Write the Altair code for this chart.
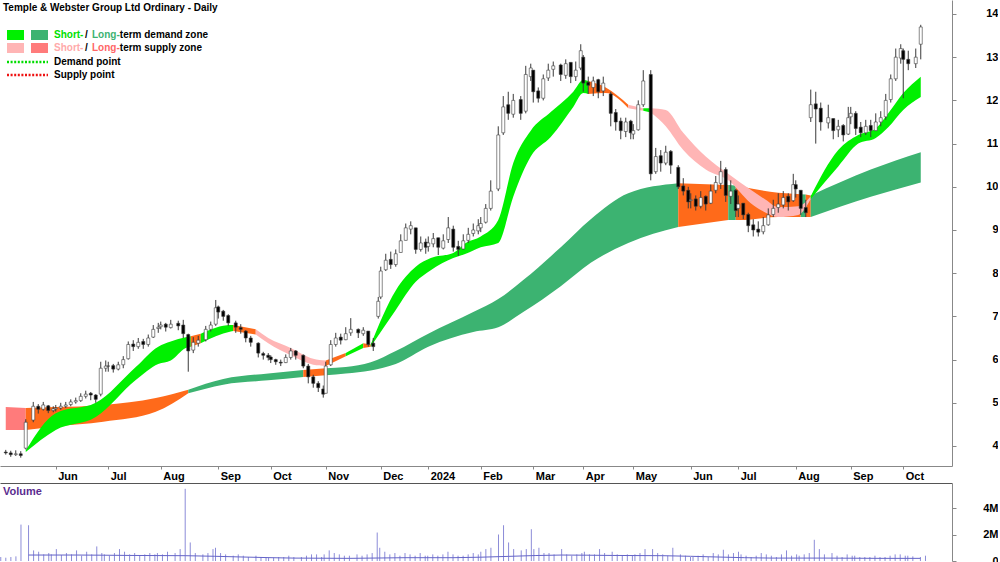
import altair as alt
import numpy as np
import pandas as pd

FONT = "Liberation Sans"

# ---------------- price data (one inner list per month) ----------------
months = ["2023-05", "2023-06", "2023-07", "2023-08", "2023-09", "2023-10",
          "2023-11", "2023-12", "2024-01", "2024-02", "2024-03", "2024-04",
          "2024-05", "2024-06", "2024-07", "2024-08", "2024-09", "2024-10"]

open_ = [
    [3.86, 3.84, 3.80, 3.82, 3.95, 4.60, 4.92, 4.85, 4.93, 4.82],
    [4.86, 4.88, 4.92, 4.96, 5.02, 5.05, 5.15, 5.22, 5.18, 5.20, 5.80],
    [5.85, 5.86, 5.78, 5.88, 6.02, 6.36, 6.30, 6.42, 6.35, 6.52, 6.72],
    [6.76, 6.82, 6.74, 6.84, 6.80, 6.58, 6.22, 6.38, 6.46, 6.70, 6.82],
    [7.22, 7.12, 7.02, 6.85, 6.74, 6.66, 6.50, 6.38, 6.14, 6.10],
    [6.06, 6.00, 5.94, 5.93, 6.05, 6.20, 6.10, 5.85, 5.60, 5.45, 5.32],
    [5.22, 5.88, 6.35, 6.52, 6.46, 6.62, 6.70, 6.60, 6.66, 6.38, 7.00],
    [7.45, 8.08, 8.32, 8.20, 8.48, 8.76, 9.02, 9.05, 8.55, 8.72],
    [8.62, 8.68, 8.82, 8.58, 8.78, 9.02, 8.62, 8.56, 8.76, 8.92, 8.98],
    [9.05, 9.18, 9.50, 9.95, 11.25, 11.90, 11.68, 12.02, 11.75, 12.55],
    [12.70, 12.22, 12.05, 12.52, 12.72, 12.82, 12.58, 12.88, 12.55, 12.75],
    [13.00, 12.42, 12.30, 12.48, 12.22, 12.15, 11.72, 11.52, 11.28, 11.52],
    [11.22, 11.32, 11.90, 12.60, 10.35, 10.72, 10.55, 10.82, 10.45, 10.02, 9.92],
    [9.68, 9.72, 9.55, 9.78, 9.62, 9.92, 10.08, 10.40, 9.78, 9.92],
    [9.50, 9.62, 9.36, 9.12, 9.02, 8.96, 9.12, 9.36, 9.52, 9.58, 9.78, 9.68],
    [10.05, 9.92, 9.52, 11.60, 11.92, 11.82, 11.48, 11.58, 11.32, 11.42, 11.22],
    [11.62, 11.70, 11.38, 11.25, 11.42, 11.30, 11.50, 11.62, 12.02, 12.50, 12.98],
    [13.15, 12.95, 12.85, 13.30],
]
close = [
    [3.84, 3.80, 3.82, 3.78, 4.55, 4.92, 4.85, 4.95, 4.82, 4.86],
    [4.88, 4.92, 4.95, 5.02, 5.05, 5.15, 5.20, 5.18, 5.08, 5.80, 5.85],
    [5.85, 5.78, 5.88, 6.00, 6.35, 6.30, 6.40, 6.35, 6.50, 6.70, 6.75],
    [6.80, 6.75, 6.82, 6.78, 6.60, 6.20, 6.40, 6.45, 6.70, 6.80, 7.20],
    [7.10, 7.00, 6.85, 6.75, 6.70, 6.50, 6.40, 6.15, 6.10, 6.05],
    [6.00, 5.95, 5.92, 6.05, 6.20, 6.10, 5.85, 5.60, 5.45, 5.35, 5.20],
    [5.85, 6.35, 6.50, 6.45, 6.60, 6.70, 6.62, 6.68, 6.35, 6.30, 7.35],
    [8.05, 8.30, 8.20, 8.45, 8.75, 9.05, 9.10, 8.55, 8.70, 8.60],
    [8.70, 8.80, 8.60, 8.75, 9.05, 8.60, 8.55, 8.75, 8.90, 9.00, 9.10],
    [9.15, 9.50, 9.90, 11.20, 11.85, 11.70, 12.00, 11.70, 12.60, 12.75],
    [12.20, 12.05, 12.50, 12.70, 12.80, 12.60, 12.85, 12.55, 12.70, 13.15],
    [12.40, 12.35, 12.45, 12.20, 12.40, 11.70, 11.50, 11.30, 11.50, 11.25],
    [11.30, 11.90, 12.45, 10.30, 10.70, 10.55, 10.80, 10.50, 10.00, 9.90, 9.65],
    [9.70, 9.55, 9.75, 9.60, 9.90, 10.10, 10.35, 9.80, 9.90, 9.45],
    [9.60, 9.35, 9.10, 9.00, 8.95, 9.10, 9.35, 9.50, 9.60, 9.75, 9.65, 10.05],
    [9.95, 9.50, 9.40, 11.90, 11.80, 11.50, 11.60, 11.30, 11.40, 11.20, 11.60],
    [11.70, 11.35, 11.25, 11.40, 11.30, 11.50, 11.60, 12.00, 12.50, 13.00, 13.20],
    [12.95, 12.85, 13.00, 13.70],
]
high = [
    [3.91, 3.89, 3.90, 3.88, 4.62, 5.02, 4.97, 5.02, 4.95, 4.92],
    [4.95, 5.00, 5.02, 5.08, 5.12, 5.22, 5.28, 5.25, 5.20, 5.95, 5.98],
    [5.95, 5.90, 5.95, 6.08, 6.42, 6.45, 6.50, 6.48, 6.58, 6.80, 6.85],
    [6.88, 6.85, 6.92, 6.90, 6.92, 6.60, 6.52, 6.55, 6.78, 6.88, 7.38],
    [7.25, 7.15, 7.05, 6.90, 6.82, 6.68, 6.55, 6.40, 6.18, 6.15],
    [6.10, 6.02, 6.00, 6.12, 6.27, 6.22, 6.12, 5.90, 5.65, 5.50, 5.40],
    [5.95, 6.45, 6.62, 6.60, 6.75, 6.96, 6.72, 6.75, 6.65, 6.50, 7.45],
    [8.15, 8.45, 8.50, 8.55, 8.90, 9.15, 9.20, 9.05, 8.85, 8.80],
    [8.85, 8.93, 8.80, 8.90, 9.30, 9.10, 8.75, 8.90, 9.05, 9.15, 9.25],
    [9.30, 9.60, 10.15, 11.40, 12.10, 12.20, 12.15, 12.10, 12.80, 12.85],
    [12.70, 12.30, 12.60, 12.85, 12.90, 12.85, 12.95, 12.80, 12.90, 13.30],
    [13.05, 12.55, 12.55, 12.50, 12.55, 12.20, 11.80, 11.60, 11.60, 11.55],
    [11.45, 12.00, 12.70, 12.70, 10.90, 10.85, 10.95, 10.85, 10.50, 10.20, 10.00],
    [9.85, 9.80, 9.90, 9.80, 10.05, 10.25, 10.60, 10.45, 10.15, 9.95],
    [9.80, 9.60, 9.40, 9.25, 9.20, 9.30, 9.50, 9.70, 9.85, 9.90, 9.85, 10.30],
    [10.15, 9.85, 9.70, 12.25, 12.20, 11.95, 11.90, 11.55, 11.55, 11.45, 11.85],
    [11.85, 11.75, 11.50, 11.55, 11.55, 11.70, 11.75, 12.15, 12.60, 13.20, 13.30],
    [13.20, 13.15, 13.20, 13.75],
]
low = [
    [3.80, 3.75, 3.77, 3.73, 3.92, 4.55, 4.75, 4.82, 4.76, 4.78],
    [4.80, 4.84, 4.88, 4.92, 4.98, 5.02, 5.10, 5.06, 5.00, 5.15, 5.72],
    [5.72, 5.70, 5.75, 5.80, 6.00, 6.20, 6.25, 6.25, 6.30, 6.50, 6.62],
    [6.70, 6.65, 6.72, 6.68, 6.50, 5.72, 6.15, 6.30, 6.42, 6.65, 6.78],
    [6.95, 6.90, 6.78, 6.62, 6.60, 6.40, 6.30, 6.05, 6.00, 5.98],
    [5.92, 5.88, 5.85, 5.92, 6.00, 6.00, 5.80, 5.45, 5.35, 5.25, 5.12],
    [5.55, 5.85, 6.30, 6.35, 6.45, 6.55, 6.50, 6.55, 6.30, 6.20, 6.95],
    [7.40, 8.05, 8.10, 8.15, 8.50, 8.85, 8.90, 8.45, 8.50, 8.45],
    [8.50, 8.60, 8.42, 8.55, 8.70, 8.50, 8.40, 8.55, 8.70, 8.85, 8.90],
    [8.95, 9.15, 9.45, 9.90, 11.20, 11.55, 11.60, 11.55, 11.70, 12.45],
    [11.95, 11.95, 12.00, 12.45, 12.55, 12.45, 12.50, 12.40, 12.45, 12.70],
    [12.20, 12.15, 12.10, 12.05, 12.10, 11.40, 11.30, 11.10, 11.15, 11.10],
    [11.10, 11.30, 11.85, 10.15, 10.30, 10.35, 10.50, 10.30, 9.95, 9.80, 9.50],
    [9.50, 9.45, 9.50, 9.45, 9.60, 9.85, 9.95, 9.65, 9.60, 9.30],
    [9.30, 9.25, 8.95, 8.85, 8.85, 8.90, 9.10, 9.30, 9.40, 9.50, 9.45, 9.65],
    [9.75, 9.35, 9.30, 11.50, 11.00, 11.30, 11.35, 11.10, 11.15, 11.05, 11.20],
    [11.45, 11.20, 11.15, 11.20, 11.15, 11.30, 11.40, 11.55, 11.95, 12.45, 12.85],
    [12.05, 12.70, 12.75, 12.95],
]
volume_m = [
    [0.30, 0.25, 0.30, 0.35, 2.75, 2.70, 0.80, 0.70, 0.50, 0.60],
    [0.50, 0.90, 0.45, 0.60, 0.50, 0.80, 0.40, 0.70, 0.50, 1.10, 0.60],
    [0.50, 0.40, 0.60, 0.90, 0.70, 0.50, 0.60, 0.40, 0.50, 0.60, 0.50],
    [0.60, 0.50, 0.70, 0.60, 0.90, 5.45, 1.40, 0.60, 0.50, 0.60, 0.90],
    [1.00, 0.60, 0.50, 0.40, 0.50, 0.40, 0.30, 0.40, 0.30, 0.30],
    [0.30, 0.25, 0.30, 0.30, 0.40, 0.30, 0.30, 0.40, 0.50, 0.50, 0.30],
    [0.50, 0.80, 0.60, 0.50, 0.40, 0.40, 0.50, 0.40, 0.50, 0.60, 2.15],
    [1.00, 0.70, 0.50, 0.60, 0.40, 0.60, 0.50, 0.40, 0.60, 0.40],
    [0.40, 0.50, 0.40, 0.50, 0.70, 0.50, 0.40, 0.40, 0.50, 0.60, 0.50],
    [0.70, 0.90, 1.00, 2.00, 2.70, 1.40, 0.90, 0.80, 0.90, 2.40],
    [0.90, 1.00, 0.60, 0.60, 0.50, 0.90, 0.50, 0.40, 0.50, 0.60],
    [0.70, 0.50, 0.50, 0.90, 0.60, 0.70, 0.50, 0.40, 0.50, 0.40],
    [0.50, 0.60, 0.90, 0.90, 0.60, 0.50, 0.40, 1.00, 0.50, 0.40, 0.30],
    [0.30, 0.40, 0.50, 0.30, 0.60, 0.50, 0.85, 0.50, 0.60, 0.70],
    [0.50, 0.40, 0.30, 0.40, 0.60, 0.50, 0.40, 0.30, 0.50, 0.80, 0.40, 0.50],
    [0.40, 0.50, 0.60, 1.60, 0.90, 0.50, 0.60, 0.40, 0.30, 0.50, 0.40],
    [0.40, 0.30, 0.30, 0.30, 0.40, 0.30, 0.30, 0.40, 0.50, 0.50, 0.40],
    [0.40, 0.35, 0.30, 0.40],
]
volume_ma_m = [0.45, 0.45, 0.42, 0.40, 0.30, 0.22, 0.20, 0.25, 0.25, 0.35,
               0.45, 0.42, 0.40, 0.30, 0.22, 0.22, 0.20, 0.20]

# ASX market holidays inside the period (the x axis counts trading days)
holidays = ["2023-06-12", "2023-12-25", "2023-12-26", "2024-01-01", "2024-01-26",
            "2024-03-29", "2024-04-01", "2024-04-25", "2024-06-10"]

# ---------------- zone bands ----------------
short_dates = ["2023-05-16", "2023-06-01", "2023-06-26", "2023-07-18", "2023-07-31",
               "2023-08-05", "2023-08-15", "2023-08-17", "2023-08-23", "2023-09-08",
               "2023-09-11", "2023-09-22", "2023-09-29", "2023-10-12", "2023-10-25",
               "2023-11-01", "2023-11-11", "2023-11-22", "2023-11-27", "2023-12-10",
               "2023-12-21", "2024-01-03", "2024-01-16", "2024-01-23", "2024-02-01",
               "2024-02-11", "2024-02-20", "2024-02-29", "2024-03-12", "2024-03-24",
               "2024-03-30", "2024-04-04", "2024-04-15", "2024-04-29", "2024-05-07",
               "2024-05-10", "2024-05-20", "2024-05-29", "2024-06-12", "2024-06-25",
               "2024-07-07", "2024-07-16", "2024-07-23", "2024-08-02", "2024-08-09",
               "2024-08-24", "2024-09-05", "2024-09-16", "2024-09-23", "2024-10-01",
               "2024-10-10"]
short_hi = [3.90, 4.76, 5.00, 5.83, 6.30, 6.42, 6.52, 6.54, 6.60, 6.80,
            6.80, 6.70, 6.50, 6.27, 6.02, 5.98, 6.15, 6.38, 6.35, 7.60,
            8.15, 8.35, 8.47, 8.70, 8.85, 9.23, 10.55, 11.30, 11.73, 12.20,
            12.47, 12.45, 12.30, 11.90, 11.82, 11.82, 11.78, 11.25, 10.70, 10.30,
            9.93, 9.70, 9.53, 9.55, 9.78, 10.85, 11.20, 11.35, 11.70, 12.17,
            12.55]
short_lo = [3.86, 4.37, 4.67, 5.53, 5.90, 5.98, 6.27, 6.30, 6.38, 6.65,
            6.66, 6.58, 6.38, 6.10, 5.88, 5.85, 6.08, 6.27, 6.30, 7.15,
            7.80, 8.07, 8.35, 8.45, 8.60, 8.70, 9.77, 10.70, 11.15, 11.85,
            12.17, 12.15, 12.17, 11.82, 11.76, 11.72, 11.40, 10.85, 10.40, 10.15,
            9.62, 9.40, 9.30, 9.35, 9.72, 10.47, 11.00, 11.13, 11.38, 11.78,
            12.08]
# zone of each stretch between consecutive points: G demand, O / P supply
short_zone = ["G", "G", "G", "G", "G", "G", "G", "O", "G", "G",
              "O", "P", "P", "P", "P", "O", "G", "O", "G", "G",
              "G", "G", "G", "G", "G", "G", "G", "G", "G", "G",
              "G", "O", "O", "P", "G", "P", "P", "P", "P", "P",
              "P", "P", "P", "P", "G", "G", "G", "G", "G", "G"]

long_dates = ["2023-05-04", "2023-05-16", "2023-06-01", "2023-06-29", "2023-07-28",
              "2023-08-16", "2023-09-05", "2023-09-29", "2023-10-19", "2023-11-01",
              "2023-11-11", "2023-11-27", "2023-12-10", "2024-01-01", "2024-01-29",
              "2024-02-12", "2024-02-26", "2024-03-17", "2024-04-05", "2024-04-28",
              "2024-05-25", "2024-06-25", "2024-06-28", "2024-07-01", "2024-07-23",
              "2024-08-03", "2024-08-07", "2024-08-09", "2024-09-12", "2024-10-10"]
long_hi = [4.90, 4.88, 4.90, 4.95, 5.11, 5.30, 5.55, 5.68, 5.76, 5.80,
           5.83, 5.94, 6.20, 6.60, 7.10, 7.40, 7.84, 8.60, 9.25, 9.85,
           10.08, 10.04, 10.03, 10.02, 9.86, 9.83, 9.82, 9.80, 10.40, 10.80]
long_lo = [4.37, 4.37, 4.45, 4.56, 4.79, 5.22, 5.42, 5.52, 5.60, 5.64,
           5.68, 5.75, 5.90, 6.30, 6.64, 6.75, 7.10, 7.70, 8.24, 8.70,
           9.07, 9.23, 9.23, 9.23, 9.30, 9.30, 9.30, 9.30, 9.77, 10.10]
long_zone = ["P", "O", "O", "O", "O", "G", "G", "G", "O", "G",
             "G", "G", "G", "G", "G", "G", "G", "G", "G", "G",
             "O", "G", "O", "O", "O", "G", "O", "G", "G"]

month_starts = ["2023-06-01", "2023-07-01", "2023-08-01", "2023-09-01", "2023-10-01",
                "2023-11-01", "2023-12-01", "2024-01-01", "2024-02-01", "2024-03-01",
                "2024-04-01", "2024-05-01", "2024-06-01", "2024-07-01", "2024-08-01",
                "2024-09-01", "2024-10-01"]
month_labels = ["Jun", "Jul", "Aug", "Sep", "Oct", "Nov", "Dec", "2024", "Feb", "Mar",
                "Apr", "May", "Jun", "Jul", "Aug", "Sep", "Oct"]
price_ticks = [4, 5, 6, 7, 8, 9, 10, 11, 12, 13, 14]
volume_ticks = [0, 2, 4]

# ---------------- frames ----------------
trading = pd.bdate_range("2023-05-04", "2024-10-10", freq="C", holidays=holidays)


def tday(d):
    return int(np.searchsorted(trading, pd.Timestamp(d)))


recs, ma_recs = [], []
for i, m in enumerate(months):
    ms = pd.Timestamp(m + "-01")
    me = ms + pd.offsets.MonthEnd(0)
    idx_in_month = np.where((trading >= ms) & (trading <= me))[0]
    n = len(close[i])
    pos = idx_in_month[np.round(np.linspace(0, len(idx_in_month) - 1, n)).astype(int)]
    for k, p in enumerate(pos):
        o, c, h, l = open_[i][k], close[i][k], high[i][k], low[i][k]
        recs.append({"t": int(p), "open": o, "close": c,
                     "high": max(h, o, c), "low": min(l, o, c),
                     "vol": volume_m[i][k], "up": bool(c >= o)})
    ma_recs.append({"t": int(pos[n // 2]), "ma": volume_ma_m[i]})
candles = pd.DataFrame(recs)
ma_df = pd.DataFrame(ma_recs)


def band_frame(dates, hi, lo, zones, prefix):
    rows = []
    run = 0
    for i, z in enumerate(zones):
        if i > 0 and z != zones[i - 1]:
            run += 1
        for j in (i, i + 1):
            rows.append({"t": tday(dates[j]), "hi": hi[j], "lo": lo[j],
                         "run": f"{prefix}{run}", "zone": prefix + z})
    return pd.DataFrame(rows).drop_duplicates(["t", "run"])


short_df = band_frame(short_dates, short_hi, short_lo, short_zone, "S")
long_df = band_frame(long_dates, long_hi, long_lo, long_zone, "L")

tick_pos = [tday(d) for d in month_starts]
label_expr = ("[" + ",".join(f"'{s}'" for s in month_labels) + "][indexof(["
              + ",".join(str(v) for v in tick_pos) + "], datum.value)]")

# ---------------- scales / axes ----------------
W, PH, VH = 952, 466, 78
x_scale = alt.Scale(domain=[-0.3, 376.5], nice=False, zero=False)
x_axis = alt.Axis(
    values=tick_pos, labelExpr=label_expr,
    title=None, grid=False, tickSize=3, labelPadding=1, labelAlign="left", labelOffset=2,
    labelBaseline="top", labelFont=FONT, labelFontSize=11, labelFontWeight="bold",
    labelColor="black", domainColor="#888888", tickColor="#888888",
    labelFlush=False, labelOverlap=False, minExtent=13, maxExtent=13)
x_enc = alt.X("t:Q", scale=x_scale, axis=x_axis)

y_scale = alt.Scale(domain=[3.537, 14.324], nice=False, zero=False)
y_axis = alt.Axis(orient="right", values=price_ticks, title=None, grid=False, tickSize=4,
                  labelPadding=42, labelAlign="right", labelFont=FONT, labelFontSize=11,
                  labelFontWeight="bold", labelColor="black", domainColor="#888888",
                  tickColor="#888888", minExtent=46, maxExtent=46)

zone_scale = alt.Scale(domain=["SG", "SO", "SP", "LG", "LO", "LP"],
                       range=["#00F000", "#FF6A1A", "#FFB5B5", "#3CB371", "#FF6A1A", "#FF7B7B"])


def band_chart(df):
    return alt.Chart(df).mark_area(interpolate="monotone", strokeWidth=0).encode(
        x=x_enc,
        y=alt.Y("lo:Q", scale=y_scale, axis=y_axis),
        y2="hi:Q",
        color=alt.Color("zone:N", scale=zone_scale, legend=None),
        detail="run:N",
    )


wicks = alt.Chart(candles).mark_rule(color="#3a3a3a", strokeWidth=1).encode(
    x=x_enc, y=alt.Y("low:Q", scale=y_scale, axis=y_axis), y2="high:Q")
bodies = alt.Chart(candles).mark_bar(width=3, stroke="#3a3a3a", strokeWidth=0.6).encode(
    x=x_enc, y=alt.Y("open:Q", scale=y_scale, axis=y_axis), y2="close:Q",
    fill=alt.condition("datum.up", alt.value("#ffffff"), alt.value("#000000")))

one = pd.DataFrame({"k": [0]})


def label(text, x, y, color="black", size=10):
    return alt.Chart(one).mark_text(text=text, align="left", baseline="middle", font=FONT,
                                    fontSize=size, fontWeight="bold", color=color).encode(
        x=alt.value(x), y=alt.value(y))


def swatch(x1, x2, y1, y2, color):
    return alt.Chart(one).mark_rect(color=color).encode(
        x=alt.value(x1), x2=alt.value(x2), y=alt.value(y1), y2=alt.value(y2))


def dotted(y, color):
    return alt.Chart(one).mark_rule(color=color, strokeWidth=2.5, strokeDash=[2, 1.6]).encode(
        x=alt.value(7), x2=alt.value(48), y=alt.value(y))


legend_layers = [
    label("Temple & Webster Group Ltd Ordinary - Daily", 3, 8),
    swatch(7, 24, 30, 40, "#00F000"), swatch(31, 48, 30, 40, "#3CB371"),
    label("Short-", 54, 35, "#00E000"), label("/", 85, 35),
    label("Long-", 92, 35, "#3CB371"), label("term demand zone", 119.8, 35),
    swatch(7, 24, 43, 53, "#FFB5B5"), swatch(31, 48, 43, 53, "#FF7B7B"),
    label("Short-", 54, 48, "#FFAAAA"), label("/", 85, 48),
    label("Long-", 92, 48, "#FF6666"), label("term supply zone", 119.8, 48),
    dotted(62, "#00DD00"), label("Demand point", 54, 62),
    dotted(75, "#EE1111"), label("Supply point", 54, 75),
]

price = alt.layer(band_chart(long_df), band_chart(short_df), wicks, bodies,
                  *legend_layers).properties(width=W, height=PH)

# ---------------- volume ----------------
vx_axis = alt.Axis(orient="top", labels=False, ticks=False, title=None, grid=False,
                   domainColor="#555555", minExtent=0, maxExtent=0)
vx_enc = alt.X("t:Q", scale=x_scale, axis=vx_axis)
v_scale = alt.Scale(domain=[0, 5.89], nice=False)
v_axis = alt.Axis(orient="right", values=volume_ticks, title=None, grid=False, tickSize=4,
                  labelPadding=42, labelAlign="right", labelFont=FONT, labelFontSize=11,
                  labelFontWeight="bold", labelColor="black", domainColor="#888888",
                  tickColor="#888888", minExtent=46, maxExtent=46,
                  labelExpr="datum.value == 0 ? '0' : datum.value + 'M'")

vol_bars = alt.Chart(candles).mark_rule(color="#8C8CD8", strokeWidth=1).encode(
    x=vx_enc, y=alt.Y("vol:Q", scale=v_scale, axis=v_axis), y2=alt.datum(0))
vol_ma = alt.Chart(ma_df).mark_line(color="#6464C8", strokeWidth=1, interpolate="monotone").encode(
    x=vx_enc, y=alt.Y("ma:Q", scale=v_scale, axis=v_axis))
vol_label = label("Volume", 3, 9, "#5B2C8F", 11)

volume = alt.layer(vol_bars, vol_ma, vol_label).properties(width=W, height=VH)

chart = alt.vconcat(price, volume, spacing=2).properties(padding=0).configure_view(strokeWidth=0)

chart.save("out.html", embed_options={"renderer": "svg", "actions": False})
